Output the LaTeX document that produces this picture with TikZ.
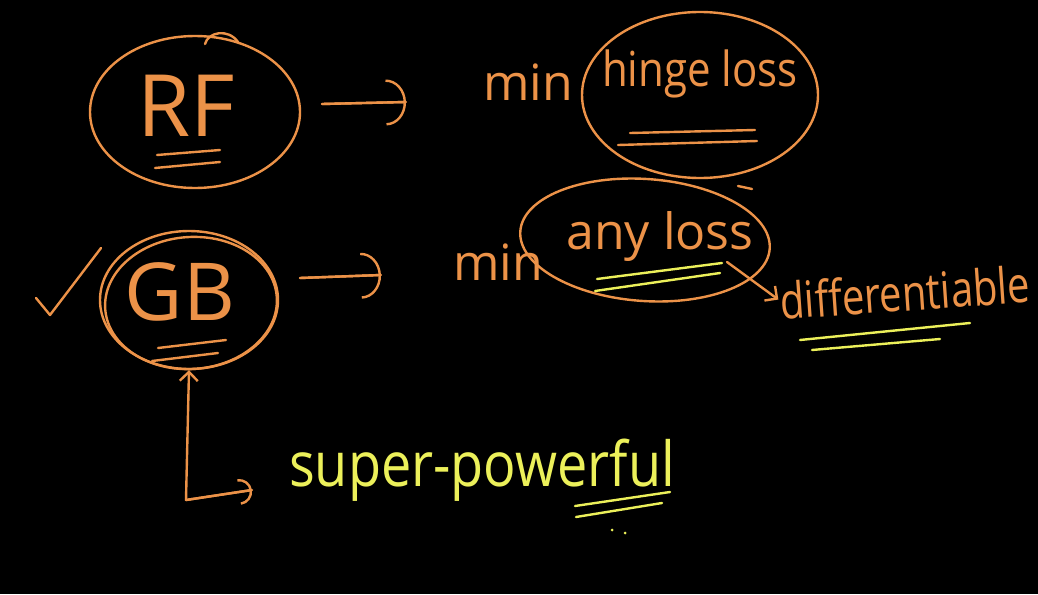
\documentclass[tikz,border=0pt]{standalone}
\usepackage{fontspec}
\setmainfont{Open Sans}
\usetikzlibrary{arrows.meta,shapes.geometric}
\definecolor{chalkor}{RGB}{236,146,72}
\definecolor{chalkye}{RGB}{236,240,90}
\begin{document}
\begin{tikzpicture}[x=1pt,y=-1pt,
  orline/.style={draw=chalkor,line width=2.4pt,line cap=round,line join=round},
  yeline/.style={draw=chalkye,line width=2.4pt,line cap=round,line join=round},
  ring/.style={orline,ellipse,inner sep=0pt},
  otext/.style={text=chalkor,inner sep=0pt},
  ytext/.style={text=chalkye,inner sep=0pt},
  bigarrow/.style={orline,-{Arc Barb[length=20pt,width=46pt,line width=2.4pt]}},
  midarrow/.style={orline,-{Arc Barb[length=13pt,width=26pt,line width=2.4pt]}},
  smallhead/.style={-{Straight Barb[length=9pt,width=18pt,line width=2.4pt]}}
]
\fill[black] (0,0) rectangle (1038,594);
\useasboundingbox (0,0) rectangle (1038,594);

% RF
\node[ring,minimum width=210pt,minimum height=152pt] (rfring) at (195,112) {};
\draw[orline] (205,44) .. controls (208,32) and (228,28) .. (238,42);
\node[otext,font=\fontsize{86}{86}\selectfont] (rf) at (186,106) {RF};
\draw[orline] (157,155) -- (220,150);
\draw[orline] (155,168) -- (220,162);

% arrow 1
\coordinate (a1s) at (322,104);
\coordinate (a1e) at (406,102);
\draw[bigarrow] (a1s) -- (a1e);
\draw[orline] (a1s) -- (a1e);

% min hinge loss
\node[otext,font=\fontsize{50}{50}\selectfont] (min1) at (528,82) {min};
\node[ring,minimum width=236pt,minimum height=166pt] (hring) at (700,95) {};
\node[otext,font=\fontsize{42}{42}\selectfont,yscale=1.15] (hinge) at (700,74) {hinge loss};
\draw[orline] (630,133) -- (755,130);
\draw[orline] (618,145) -- (757,141);

% GB
\node[ring,minimum width=178pt,minimum height=138pt] (gbring) at (189,300) {};
\node[ring,minimum width=172pt,minimum height=132pt,rotate=4] (gbring2) at (191,303) {};
\node[otext,font=\fontsize{80}{80}\selectfont] (gb) at (180,292) {GB};
\draw[orline] (158,348) -- (226,340);
\draw[orline] (152,361) -- (218,353);

% check mark
\draw[orline] (36,298) -- (50,315) -- (101,248);

% arrow 2
\coordinate (a2s) at (300,278);
\coordinate (a2e) at (381,275);
\draw[bigarrow] (a2s) -- (a2e);
\draw[orline] (a2s) -- (a2e);

% min any loss
\node[otext,font=\fontsize{50}{50}\selectfont] (min2) at (498,262) {min};
\node[ring,minimum width=250pt,minimum height=122pt,rotate=-4] (aring) at (645,240) {};
\draw[orline] (738,186) -- (752,189);
\node[otext,font=\fontsize{50}{50}\selectfont] (anyloss) at (660,237) {any loss};
\draw[yeline] (597,279) -- (722,263);
\draw[yeline] (595,291) -- (720,273);

% differentiable
\coordinate (dstart) at (727,262);
\node[otext,font=\fontsize{40}{40}\selectfont,rotate=4,yscale=1.25] (diff) at (905,292) {differentiable};
\draw[orline,smallhead,shorten >=2pt] (dstart) -- (diff.west);
\draw[yeline] (800,340) -- (970,323);
\draw[yeline] (812,350) -- (940,339);

% super-powerful
\node[ytext,font=\fontsize{54}{54}\selectfont,yscale=1.15] (sp) at (482,470) {super-powerful};
\coordinate (corner) at (186,500);
\coordinate (spin) at (252,490);
\draw[orline,smallhead] (corner) -- (gbring.south);
\draw[midarrow] (corner) -- (spin);
\draw[orline] (corner) -- (spin);
\draw[yeline] (575,506) -- (670,492);
\draw[yeline] (576,517) -- (662,503);
\fill[chalkye] (612,530) circle (1.5pt);
\fill[chalkye] (625,533) circle (1.5pt);
\end{tikzpicture}
\end{document}
